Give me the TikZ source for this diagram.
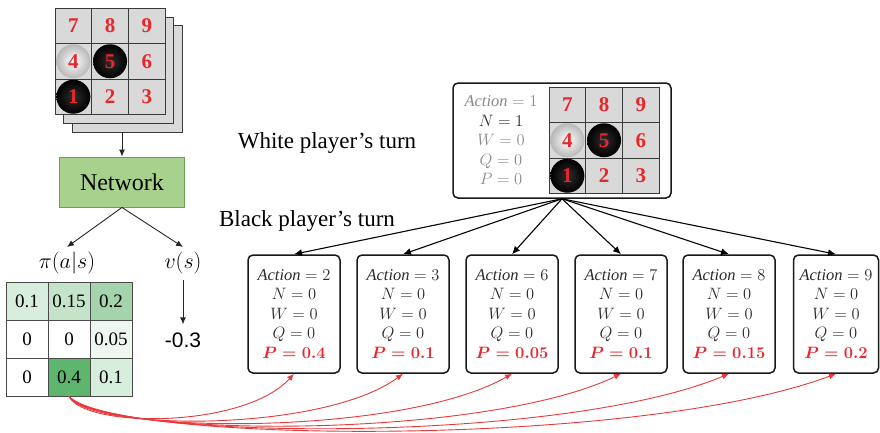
\RequirePackage{fix-cm}
\documentclass[tikz,border=0pt]{standalone}
\usepackage{fontspec}
\setmainfont{Liberation Serif}
\newfontfamily\arialfont{Liberation Sans}
\usetikzlibrary{arrows.meta}

\definecolor{cellgray}{HTML}{D9D9D9}
\definecolor{gridline}{HTML}{3A3A3A}
\definecolor{numred}{HTML}{E8262B}
\definecolor{netfill}{HTML}{A9D18E}
\definecolor{netline}{HTML}{6E9F55}
\definecolor{pa}{HTML}{D6EEDB}
\definecolor{pb}{HTML}{C3E4C9}
\definecolor{pc}{HTML}{A3D4AB}
\definecolor{pd}{HTML}{EDF7EF}
\definecolor{pe}{HTML}{5DB56E}
\definecolor{pline}{HTML}{4A4A4A}
\definecolor{softtext}{HTML}{8A8A8A}
\definecolor{maintext}{HTML}{2B2B2B}
\definecolor{linkred}{HTML}{E83A3A}

\tikzset{
  cellbox/.style={draw=gridline, fill=cellgray, line width=0.8pt,
    minimum width=36.7pt, minimum height=35.5pt, inner sep=0pt},
  blackstone/.style={circle, minimum size=34pt, inner sep=0pt, shading=radial,
    inner color=black!82, outer color=black},
  whitestone/.style={circle, minimum size=34pt, inner sep=0pt, shading=radial,
    inner color=white, outer color=black!28},
  numtxt/.style={text=numred, font=\bfseries\fontsize{21}{21}\selectfont, inner sep=0pt},
  backboard/.style={draw=gridline, fill=cellgray, line width=0.9pt},
  pcell/.style={draw=pline, line width=0.9pt, minimum width=42pt, minimum height=38pt,
    inner sep=0pt, font=\fontsize{19}{19}\selectfont},
  statebox/.style={draw=black!90, line width=1.5pt, rounded corners=5pt,
    minimum height=118pt, inner sep=0pt, align=center, text=maintext,
    font=\fontsize{16.5}{19.5}\selectfont},
  arr/.style={-{Latex[length=7pt,width=6pt]}, line width=0.9pt, draw=black!85},
  treearr/.style={-{Latex[length=8pt,width=7pt]}, line width=1.1pt, draw=black},
  priorarr/.style={-{Latex[length=7pt,width=6pt]}, line width=0.9pt, draw=linkred},
  caption/.style={font=\fontsize{23}{23}\selectfont, inner sep=0pt}
}

% 3x3 board with three stones; #1 name prefix, (#2,#3) top-left corner
\newcommand{\goboard}[3]{%
  \foreach \r/\c/\n in {0/0/7,0/1/8,0/2/9,1/0/4,1/1/5,1/2/6,2/0/1,2/1/2,2/2/3}{
    \node[cellbox] (#1-\n) at ({#2+(\c+0.5)*36.7},{#3+(\r+0.5)*35.5}) {};
  }
  \node[whitestone] (#1-s4) at (#1-4) {};
  \node[blackstone] (#1-s5) at (#1-5) {};
  \node[blackstone] (#1-s1) at (#1-1) {};
  \foreach \n in {1,...,9}{ \node[numtxt] (#1-t\n) at (#1-\n) {\n}; }
}

\newcommand{\stateinfo}[2]{%
  $\mathit{Action}=#1$\\ $N=0$\\ $W=0$\\ $Q=0$\\ {\color{numred}\boldmath$P=#2$}}

\begin{document}
\begin{tikzpicture}[x=1pt,y=-1pt]
\useasboundingbox (0,0) rectangle (880,432);

% stack of input planes
\node[backboard, minimum width=110pt, minimum height=107pt, inner sep=0pt] (stack3) at (127,78.5) {};
\node[backboard, minimum width=110pt, minimum height=106pt, inner sep=0pt] (stack2) at (118,70) {};
\goboard{inb}{55}{8}

% network and its two heads
\node[draw=netline, fill=netfill, line width=0.9pt, minimum width=125pt, minimum height=50pt,
      font=\fontsize{24}{24}\selectfont] (net) at (122,182) {Network};
\draw[arr] (stack3.south -| net.north) -- (net.north);

\node[anchor=north, inner sep=1pt, font=\fontsize{22}{22}\selectfont] (pilab) at (67,251) {$\pi(a|s)$};
\node[anchor=north, inner sep=1pt, font=\fontsize{22}{22}\selectfont] (vlab) at (183,251) {$v(s)$};
\draw[arr] (net.south) -- ([yshift=4pt]pilab.north);
\draw[arr] (net.south) -- ([yshift=4pt]vlab.north);

\node[inner sep=2pt, font=\arialfont\fontsize{21}{21}\selectfont] (val) at (183,340) {-0.3};
\draw[arr] ([yshift=-5pt]vlab.south) -- ([yshift=6pt]val.north);

% policy grid
\foreach \r/\c/\v/\f in {0/0/0.1/pa,0/1/0.15/pb,0/2/0.2/pc,
                         1/0/0/white,1/1/0/white,1/2/0.05/pd,
                         2/0/0/white,2/1/0.4/pe,2/2/0.1/pa}{
  \node[pcell, fill=\f] (p-\r-\c) at ({6+(\c+0.5)*42},{282+(\r+0.5)*38}) {\v};
}

% captions
\node[caption] (wturn) at (327,143) {White player’s turn};
\node[caption] (bturn) at (307,221) {Black player’s turn};

% root state
\node[draw=black!90, line width=1.5pt, rounded corners=5pt, minimum width=218pt,
      minimum height=115pt, inner sep=0pt] (root) at (562,140.5) {};
\node[align=center, text=softtext, font=\fontsize{16.5}{19.5}\selectfont] (rootinfo) at (501,140.5)
  {$\mathit{Action}=1$\\ {\color{maintext}$N=1$}\\ $W=0$\\ $Q=0$\\ $P=0$};
\goboard{rb}{549}{87}

% child states
\node[statebox, minimum width=92pt] (c2) at (294,314) {\stateinfo{2}{0.4}};
\node[statebox, minimum width=92pt] (c3) at (403,314) {\stateinfo{3}{0.1}};
\node[statebox, minimum width=92pt] (c6) at (512,314) {\stateinfo{6}{0.05}};
\node[statebox, minimum width=92pt] (c7) at (621,314) {\stateinfo{7}{0.1}};
\node[statebox, minimum width=92pt] (c8) at (729,314) {\stateinfo{8}{0.15}};
\node[statebox, minimum width=85pt] (c9) at (836,314) {\stateinfo{9}{0.2}};

\coordinate (apex) at (root.south);
\foreach \k in {c2,c3,c6,c7,c8,c9}{ \draw[treearr] (apex) -- (\k.north); }

% priors fed from the policy cell
\coordinate (src) at (p-2-1.south);
\foreach \k/\i in {c2/0,c3/1,c6/2,c7/3,c8/4,c9/5}{
  \draw[priorarr] (src) .. controls +({16+6*\i},{32+3*\i}) and +({-(50+30*\i)},{55+4*\i}) .. (\k.south);
}
\end{tikzpicture}
\end{document}
